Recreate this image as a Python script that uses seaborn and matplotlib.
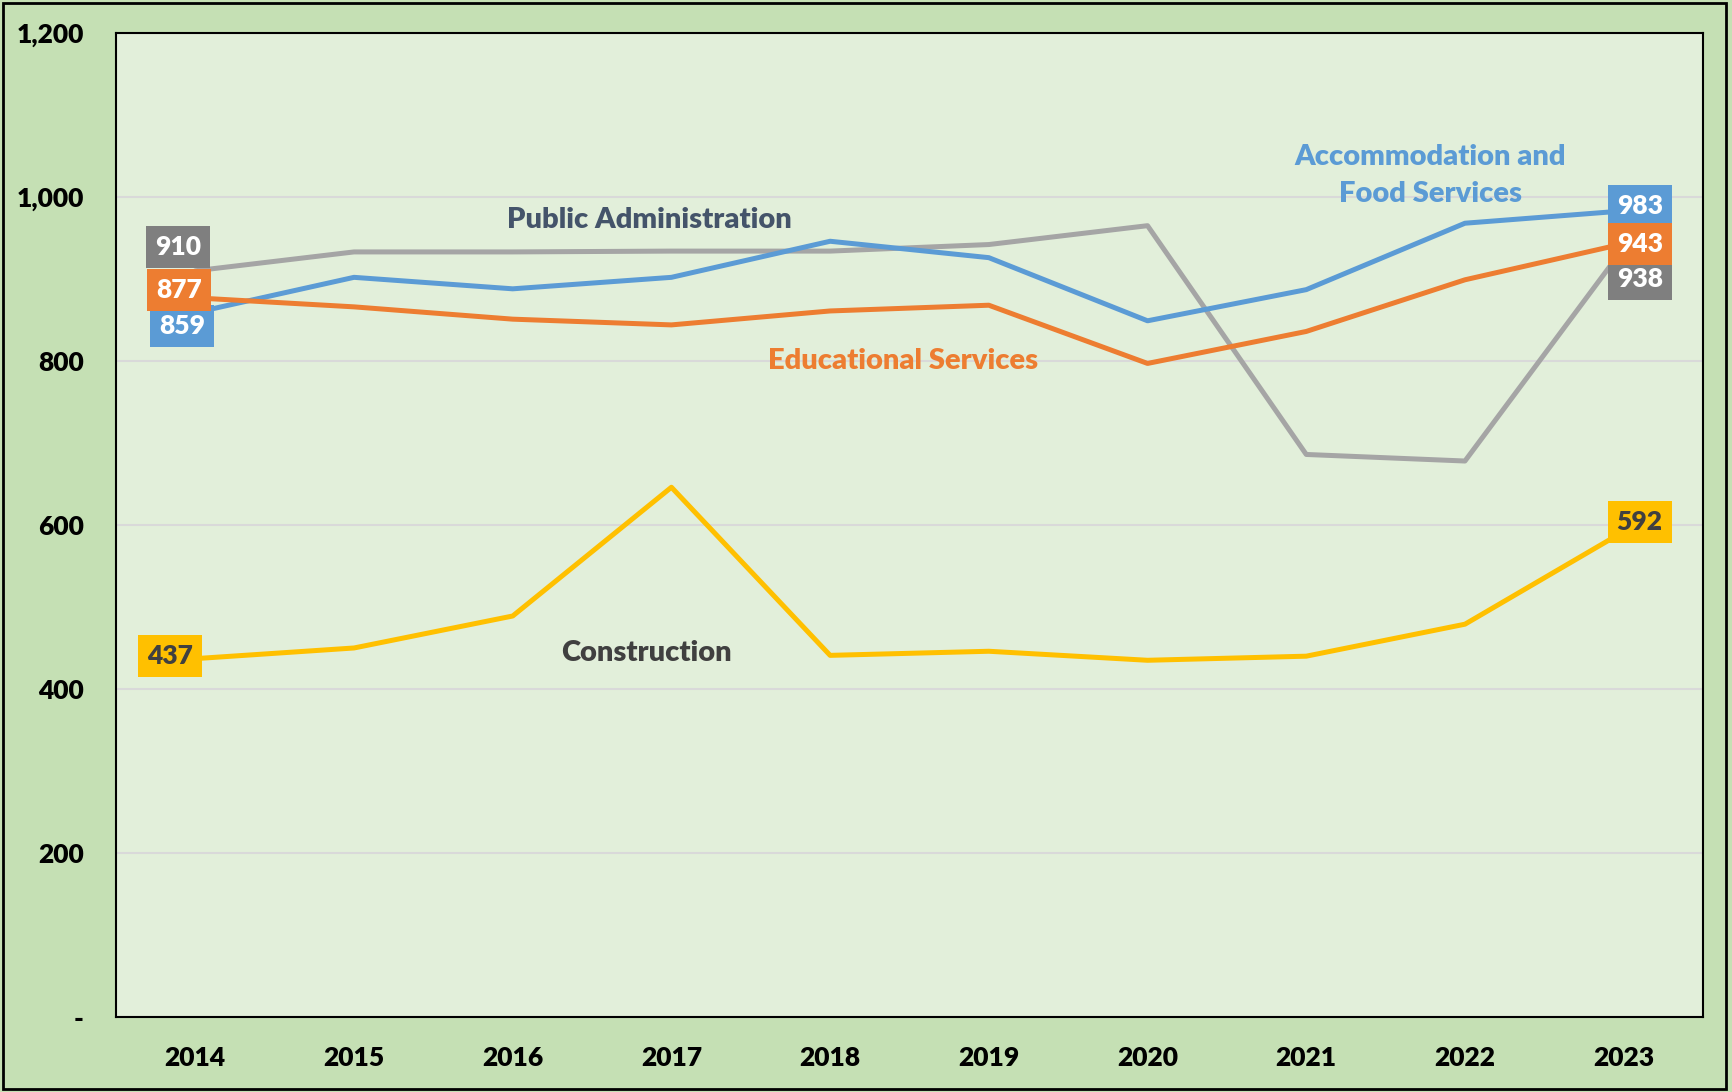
import pandas as pd
import numpy as np
import matplotlib
matplotlib.use("Agg")
import matplotlib.pyplot as plt
import seaborn as sns
from matplotlib.patches import Rectangle
from matplotlib.ticker import FuncFormatter

sns.set_style("white")
plt.rcParams['font.family'] = ['Lato', 'DejaVu Sans']

# Data
years = [2014, 2015, 2016, 2017, 2018, 2019, 2020, 2021, 2022, 2023]
public_admin = [910, 933, 933, 934, 934, 942, 965, 686, 678, 938]
accommodation = [859, 902, 888, 902, 946, 926, 849, 887, 968, 983]
educational = [877, 866, 851, 844, 861, 868, 797, 836, 899, 943]
construction = [437, 450, 489, 646, 441, 446, 435, 440, 479, 592]

series_names = ["Public Administration", "Accommodation and Food Services",
                "Educational Services", "Construction"]
series_values = [public_admin, accommodation, educational, construction]

line_colors = {"Public Administration": "#A5A5A5",
               "Accommodation and Food Services": "#5B9BD5",
               "Educational Services": "#ED7D31",
               "Construction": "#FFC000"}
box_colors = {"Public Administration": "#7F7F7F",
              "Accommodation and Food Services": "#5B9BD5",
              "Educational Services": "#ED7D31",
              "Construction": "#FFC000"}
box_text = {"Public Administration": "white",
            "Accommodation and Food Services": "white",
            "Educational Services": "white",
            "Construction": "#404040"}

df = pd.DataFrame([
    {"year": y, "value": v, "series": name}
    for name, vals in zip(series_names, series_values)
    for y, v in zip(years, vals)
])

W = "heavy"

fig = plt.figure(figsize=(17.33, 10.92), dpi=100, facecolor="#C5E0B4")
ax = fig.add_axes([0.0669, 0.0687, 0.9158, 0.9011])
ax.set_facecolor("#E2EFDA")

sns.lineplot(data=df, x="year", y="value", hue="series", palette=line_colors,
             linewidth=3.6, ax=ax, legend=False, zorder=3)

ax.set_xlim(years[0] - 0.5, years[-1] + 0.5)
ax.set_ylim(0, 1200)
ax.set_xticks(years)
ax.set_xticklabels([str(y) for y in years])
ax.set_yticks(np.arange(0, 1201, 200))
ax.yaxis.set_major_formatter(FuncFormatter(lambda v, p: "-" if v == 0 else f"{int(v):,}"))
ax.tick_params(axis="both", length=0, labelsize=19, colors="black")
ax.tick_params(axis="y", pad=23)
ax.tick_params(axis="x", pad=21)
for lab in ax.get_xticklabels() + ax.get_yticklabels():
    lab.set_fontweight(W)
ax.set_xlabel("")
ax.set_ylabel("")
ax.grid(axis="y", color="#D9D9D9", linewidth=1.5, zorder=1)
ax.set_axisbelow(True)
for sp in ax.spines.values():
    sp.set_visible(True)
    sp.set_color("black")
    sp.set_linewidth(1.5)

# end-point value labels (offsets in pixels)
start_offsets = {"Public Administration": (-17, 24),
                 "Accommodation and Food Services": (-13, -13),
                 "Educational Services": (-16, 8),
                 "Construction": (-25, 3)}
end_offsets = {"Public Administration": (16, -31),
               "Accommodation and Food Services": (16, 5),
               "Educational Services": (16, 0),
               "Construction": (16, 10)}
for name, vals in zip(series_names, series_values):
    for idx, offs in ((0, start_offsets), (-1, end_offsets)):
        ax.annotate(str(vals[idx]), xy=(years[idx], vals[idx]),
                    xytext=offs[name], textcoords="offset pixels",
                    ha="center", va="center", fontsize=19, fontweight=W,
                    color=box_text[name], zorder=5,
                    bbox=dict(boxstyle="square,pad=0.34", fc=box_colors[name], ec="none"))

# series name labels
ax.text(0.336, 0.810, "Public Administration", transform=ax.transAxes,
        ha="center", va="center", fontsize=21, fontweight=W, color="#44546A")
ax.text(0.828, 0.855, "Accommodation and\nFood Services", transform=ax.transAxes,
        ha="center", va="center", fontsize=21, fontweight=W, color="#5B9BD5",
        linespacing=1.5)
ax.text(0.496, 0.6667, "Educational Services", transform=ax.transAxes,
        ha="center", va="center", fontsize=21, fontweight=W, color="#ED7D31")
ax.text(0.334, 0.370, "Construction", transform=ax.transAxes,
        ha="center", va="center", fontsize=21, fontweight=W, color="#404040")

# outer border
fig.patches.append(Rectangle((0.002, 0.003), 0.994, 0.994, transform=fig.transFigure,
                             fill=False, edgecolor="black", linewidth=2))

fig.savefig("out.png", dpi=100, facecolor=fig.get_facecolor())
